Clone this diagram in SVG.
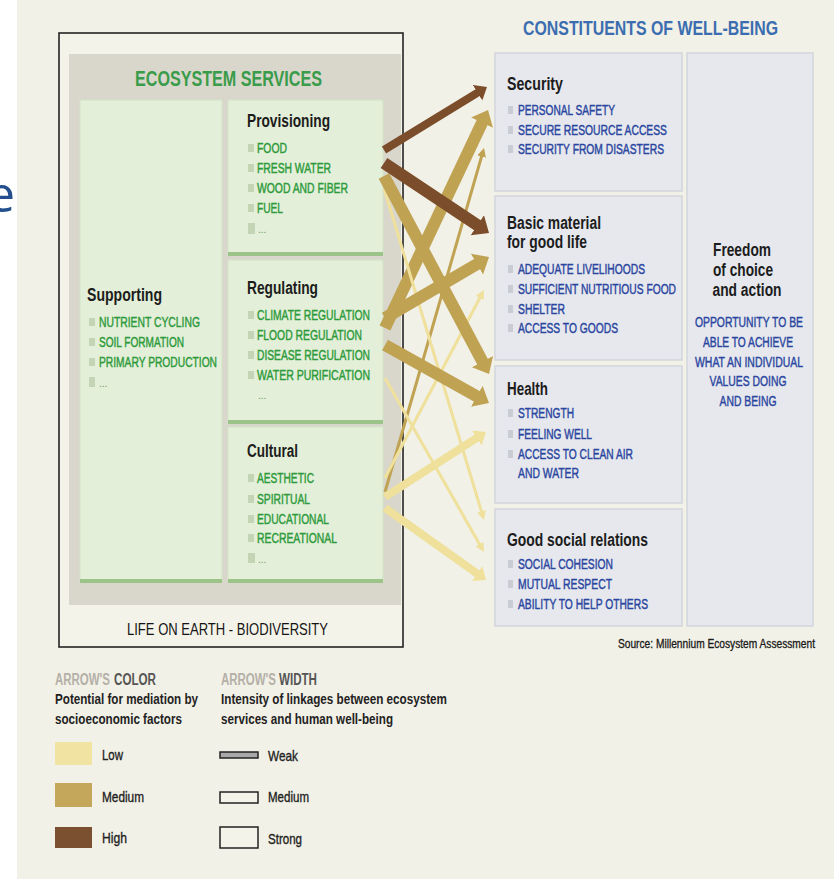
<svg xmlns="http://www.w3.org/2000/svg" width="834" height="879" viewBox="0 0 834 879">
<defs>
<style>
text{font-family:"Liberation Sans",Arial,sans-serif}
.hd{font-weight:bold;font-size:18px;fill:#1c1c1c}
.gi{font-size:15px;fill:#2d9a3b;stroke:#2d9a3b;stroke-width:0.45}
.bi{font-size:15px;fill:#2a46a0;stroke:#2a46a0;stroke-width:0.45}
.gb{fill:#c3d5b5}
.bb{fill:#c9ccd3}
.svc{fill:#e3efd8;stroke:#d3e3c6;stroke-width:1}
.edge{fill:#9cc488}
.con{fill:#e6e8ed;stroke:#d2d5db;stroke-width:1.5}
.lg{font-size:15px;font-weight:bold;fill:#222}
.lh{font-size:16px;font-weight:bold}
.ll{font-size:15px;fill:#222;stroke:#222;stroke-width:0.35}
.arr{fill:none;stroke-linecap:butt}
.hi{stroke:#7b4d2a}
.md{stroke:#c0a253}
.lo{stroke:#efe09c}
.w3{stroke-width:12}
.w2{stroke-width:8}
.w1{stroke-width:3}
</style>
<marker id="hiS" markerUnits="userSpaceOnUse" markerWidth="16" markerHeight="26" viewBox="0 -13 16 26" refX="2" refY="0" orient="auto"><path d="M0,-12 L14,0 L0,12 z" fill="#7b4d2a"/></marker>
<marker id="hiM" markerUnits="userSpaceOnUse" markerWidth="13" markerHeight="20" viewBox="0 -10 13 20" refX="2" refY="0" orient="auto"><path d="M0,-9 L11,0 L0,9 z" fill="#7b4d2a"/></marker>
<marker id="mdS" markerUnits="userSpaceOnUse" markerWidth="16" markerHeight="26" viewBox="0 -13 16 26" refX="2" refY="0" orient="auto"><path d="M0,-12 L14,0 L0,12 z" fill="#c0a253"/></marker>
<marker id="mdW" markerUnits="userSpaceOnUse" markerWidth="11" markerHeight="11" viewBox="0 -5.5 11 11" refX="2" refY="0" orient="auto"><path d="M0,-4.5 L9,0 L0,4.5 z" fill="#c0a253"/></marker>
<marker id="loM" markerUnits="userSpaceOnUse" markerWidth="13" markerHeight="20" viewBox="0 -10 13 20" refX="2" refY="0" orient="auto"><path d="M0,-9 L11,0 L0,9 z" fill="#efe09c"/></marker>
<marker id="loW" markerUnits="userSpaceOnUse" markerWidth="11" markerHeight="11" viewBox="0 -5.5 11 11" refX="2" refY="0" orient="auto"><path d="M0,-4.5 L9,0 L0,4.5 z" fill="#efe09c"/></marker>
</defs>

<!-- page -->
<rect x="0" y="0" width="834" height="879" fill="#f2f1e7"/>
<rect x="0" y="0" width="17" height="879" fill="#ffffff"/>
<text x="-13" y="212" font-size="50" fill="#234f8e" style="font-family:'Open Sans',sans-serif">e</text>

<!-- ecosystem services frame -->
<g id="frame">
<rect x="59" y="33" width="344" height="614" fill="#f4f3ea" stroke="#232323" stroke-width="1.6"/>
<rect x="69" y="54" width="332" height="551" fill="#d9d7cc"/>
<text x="135" y="86" font-size="22" font-weight="bold" fill="#3a9c4a" textLength="187" lengthAdjust="spacingAndGlyphs">ECOSYSTEM SERVICES</text>
<text x="127" y="635" font-size="17" fill="#141414" textLength="201" lengthAdjust="spacingAndGlyphs">LIFE ON EARTH - BIODIVERSITY</text>
</g>

<g id="supporting">
<rect class="svc" x="80" y="100" width="142" height="482"/>
<rect class="edge" x="80" y="579" width="142" height="4"/>
<text class="hd" x="87" y="301" textLength="75" lengthAdjust="spacingAndGlyphs">Supporting</text>
<rect class="gb" x="89" y="318" width="6" height="8"/><text class="gi" x="99" y="327" textLength="101" lengthAdjust="spacingAndGlyphs">NUTRIENT CYCLING</text>
<rect class="gb" x="89" y="338" width="6" height="8"/><text class="gi" x="99" y="347" textLength="85" lengthAdjust="spacingAndGlyphs">SOIL FORMATION</text>
<rect class="gb" x="89" y="358" width="6" height="8"/><text class="gi" x="99" y="367" textLength="118" lengthAdjust="spacingAndGlyphs">PRIMARY PRODUCTION</text>
<rect class="gb" x="89" y="377" width="6" height="10"/><text x="99" y="387" font-size="10" fill="#6c9a5c">...</text>
</g>

<g id="provisioning">
<rect class="svc" x="228" y="100" width="155" height="155"/>
<rect class="edge" x="228" y="252" width="155" height="4"/>
<text class="hd" x="247" y="127" textLength="83" lengthAdjust="spacingAndGlyphs">Provisioning</text>
<rect class="gb" x="248" y="144" width="6" height="8"/><text class="gi" x="257" y="153" textLength="30" lengthAdjust="spacingAndGlyphs">FOOD</text>
<rect class="gb" x="248" y="164" width="6" height="8"/><text class="gi" x="257" y="173" textLength="74" lengthAdjust="spacingAndGlyphs">FRESH WATER</text>
<rect class="gb" x="248" y="184" width="6" height="8"/><text class="gi" x="257" y="193" textLength="91" lengthAdjust="spacingAndGlyphs">WOOD AND FIBER</text>
<rect class="gb" x="248" y="204" width="6" height="8"/><text class="gi" x="257" y="213" textLength="26" lengthAdjust="spacingAndGlyphs">FUEL</text>
<rect class="gb" x="248" y="223" width="7" height="11"/><text x="258" y="233" font-size="10" fill="#6c9a5c">...</text>
</g>

<g id="regulating">
<rect class="svc" x="228" y="260" width="155" height="163"/>
<rect class="edge" x="228" y="420" width="155" height="4"/>
<text class="hd" x="247" y="294" textLength="71" lengthAdjust="spacingAndGlyphs">Regulating</text>
<rect class="gb" x="248" y="311" width="6" height="8"/><text class="gi" x="257" y="320" textLength="113" lengthAdjust="spacingAndGlyphs">CLIMATE REGULATION</text>
<rect class="gb" x="248" y="331" width="6" height="8"/><text class="gi" x="257" y="340" textLength="105" lengthAdjust="spacingAndGlyphs">FLOOD REGULATION</text>
<rect class="gb" x="248" y="351" width="6" height="8"/><text class="gi" x="257" y="360" textLength="113" lengthAdjust="spacingAndGlyphs">DISEASE REGULATION</text>
<rect class="gb" x="248" y="371" width="6" height="8"/><text class="gi" x="257" y="380" textLength="113" lengthAdjust="spacingAndGlyphs">WATER PURIFICATION</text>
<text x="258" y="399" font-size="10" fill="#6c9a5c">...</text>
</g>

<g id="cultural">
<rect class="svc" x="228" y="427" width="155" height="155"/>
<rect class="edge" x="228" y="579" width="155" height="4"/>
<text class="hd" x="247" y="457" textLength="51" lengthAdjust="spacingAndGlyphs">Cultural</text>
<rect class="gb" x="248" y="474" width="6" height="8"/><text class="gi" x="257" y="483" textLength="57" lengthAdjust="spacingAndGlyphs">AESTHETIC</text>
<rect class="gb" x="248" y="495" width="6" height="8"/><text class="gi" x="257" y="504" textLength="53" lengthAdjust="spacingAndGlyphs">SPIRITUAL</text>
<rect class="gb" x="248" y="515" width="6" height="8"/><text class="gi" x="257" y="524" textLength="72" lengthAdjust="spacingAndGlyphs">EDUCATIONAL</text>
<rect class="gb" x="248" y="534" width="6" height="8"/><text class="gi" x="257" y="543" textLength="80" lengthAdjust="spacingAndGlyphs">RECREATIONAL</text>
<rect class="gb" x="248" y="553" width="7" height="10"/><text x="258" y="563" font-size="10" fill="#6c9a5c">...</text>
</g>

<!-- linkages: colour = mediation potential, width = intensity -->
<g id="connectors" class="arr">
<line class="hi w2" x1="384" y1="150" x2="479.3" y2="91.7" marker-end="url(#hiM)"/>
<line class="md w3" x1="385" y1="328" x2="482.9" y2="120.9" marker-end="url(#mdS)"/>
<line class="md w1" x1="385" y1="492" x2="482.1" y2="154.7" marker-end="url(#mdW)"/>
<line class="lo w1" x1="385" y1="478" x2="480.7" y2="296.2" marker-end="url(#loW)"/>
<line class="lo w1" x1="384" y1="188" x2="482.0" y2="513.3" marker-end="url(#loW)"/>
<line class="lo w1" x1="385" y1="378" x2="480.5" y2="545.9" marker-end="url(#loW)"/>
<line class="lo w2" x1="385" y1="497" x2="478.4" y2="436.9" marker-end="url(#loM)"/>
<line class="lo w2" x1="385" y1="508" x2="478.7" y2="574.8" marker-end="url(#loM)"/>
<line class="md w3" x1="385" y1="318" x2="478.7" y2="263.1" marker-end="url(#mdS)"/>
<line class="md w3" x1="385" y1="345" x2="478.5" y2="397.2" marker-end="url(#mdS)"/>
<line class="md w3" x1="384" y1="176" x2="483.4" y2="363.4" marker-end="url(#mdS)"/>
<line class="hi w3" x1="384" y1="163" x2="479.0" y2="226.3" marker-end="url(#hiS)"/>
</g>

<!-- constituents of well-being -->
<text x="523" y="35" font-size="20" font-weight="bold" fill="#3b6db0" textLength="255" lengthAdjust="spacingAndGlyphs">CONSTITUENTS OF WELL-BEING</text>

<g id="security">
<rect class="con" x="495" y="53" width="187" height="138"/>
<text class="hd" x="507" y="90" textLength="56" lengthAdjust="spacingAndGlyphs">Security</text>
<rect class="bb" x="508" y="106" width="5" height="8"/><text class="bi" x="518" y="115" textLength="97" lengthAdjust="spacingAndGlyphs">PERSONAL SAFETY</text>
<rect class="bb" x="508" y="126" width="5" height="8"/><text class="bi" x="518" y="135" textLength="149" lengthAdjust="spacingAndGlyphs">SECURE RESOURCE ACCESS</text>
<rect class="bb" x="508" y="145" width="5" height="8"/><text class="bi" x="518" y="154" textLength="146" lengthAdjust="spacingAndGlyphs">SECURITY FROM DISASTERS</text>
</g>

<g id="basic-material">
<rect class="con" x="495" y="196" width="187" height="164"/>
<text class="hd" x="507" y="229" textLength="94" lengthAdjust="spacingAndGlyphs">Basic material</text>
<text class="hd" x="507" y="248" textLength="80" lengthAdjust="spacingAndGlyphs">for good life</text>
<rect class="bb" x="508" y="265" width="5" height="8"/><text class="bi" x="518" y="274" textLength="127" lengthAdjust="spacingAndGlyphs">ADEQUATE LIVELIHOODS</text>
<rect class="bb" x="508" y="285" width="5" height="8"/><text class="bi" x="518" y="294" textLength="158" lengthAdjust="spacingAndGlyphs">SUFFICIENT NUTRITIOUS FOOD</text>
<rect class="bb" x="508" y="305" width="5" height="8"/><text class="bi" x="518" y="314" textLength="47" lengthAdjust="spacingAndGlyphs">SHELTER</text>
<rect class="bb" x="508" y="324" width="5" height="8"/><text class="bi" x="518" y="333" textLength="100" lengthAdjust="spacingAndGlyphs">ACCESS TO GOODS</text>
</g>

<g id="health">
<rect class="con" x="495" y="366" width="187" height="137"/>
<text class="hd" x="507" y="395" textLength="41" lengthAdjust="spacingAndGlyphs">Health</text>
<rect class="bb" x="508" y="409" width="5" height="8"/><text class="bi" x="518" y="418" textLength="56" lengthAdjust="spacingAndGlyphs">STRENGTH</text>
<rect class="bb" x="508" y="430" width="5" height="8"/><text class="bi" x="518" y="439" textLength="74" lengthAdjust="spacingAndGlyphs">FEELING WELL</text>
<rect class="bb" x="508" y="450" width="5" height="8"/><text class="bi" x="518" y="459" textLength="115" lengthAdjust="spacingAndGlyphs">ACCESS TO CLEAN AIR</text>
<text class="bi" x="518" y="478" textLength="61" lengthAdjust="spacingAndGlyphs">AND WATER</text>
</g>

<g id="social-relations">
<rect class="con" x="495" y="509" width="187" height="117"/>
<text class="hd" x="507" y="546" textLength="141" lengthAdjust="spacingAndGlyphs">Good social relations</text>
<rect class="bb" x="508" y="560" width="5" height="8"/><text class="bi" x="518" y="569" textLength="95" lengthAdjust="spacingAndGlyphs">SOCIAL COHESION</text>
<rect class="bb" x="508" y="580" width="5" height="8"/><text class="bi" x="518" y="589" textLength="94" lengthAdjust="spacingAndGlyphs">MUTUAL RESPECT</text>
<rect class="bb" x="508" y="600" width="5" height="8"/><text class="bi" x="518" y="609" textLength="130" lengthAdjust="spacingAndGlyphs">ABILITY TO HELP OTHERS</text>
</g>

<g id="freedom" text-anchor="middle">
<rect class="con" x="687" y="53" width="126" height="573"/>
<text class="hd" x="742" y="256" textLength="58" lengthAdjust="spacingAndGlyphs">Freedom</text>
<text class="hd" x="743" y="276" textLength="60" lengthAdjust="spacingAndGlyphs">of choice</text>
<text class="hd" x="747" y="296" textLength="69" lengthAdjust="spacingAndGlyphs">and action</text>
<text class="bi" x="749" y="327" textLength="108" lengthAdjust="spacingAndGlyphs">OPPORTUNITY TO BE</text>
<text class="bi" x="748" y="347" textLength="90" lengthAdjust="spacingAndGlyphs">ABLE TO ACHIEVE</text>
<text class="bi" x="749" y="367" textLength="108" lengthAdjust="spacingAndGlyphs">WHAT AN INDIVIDUAL</text>
<text class="bi" x="748" y="386" textLength="77" lengthAdjust="spacingAndGlyphs">VALUES DOING</text>
<text class="bi" x="748" y="406" textLength="57" lengthAdjust="spacingAndGlyphs">AND BEING</text>
</g>

<text x="618" y="648" font-size="12" fill="#1a1a1a" stroke="#1a1a1a" stroke-width="0.3" textLength="197" lengthAdjust="spacingAndGlyphs">Source: Millennium Ecosystem Assessment</text>

<!-- legend -->
<g id="legend-colour">
<text class="lh" x="55" y="685" fill="#b4b0a7" textLength="55" lengthAdjust="spacingAndGlyphs">ARROW'S</text>
<text class="lh" x="114" y="685" fill="#555" textLength="42" lengthAdjust="spacingAndGlyphs">COLOR</text>
<text class="lg" x="55" y="704" textLength="143" lengthAdjust="spacingAndGlyphs">Potential for mediation by</text>
<text class="lg" x="55" y="724" textLength="127" lengthAdjust="spacingAndGlyphs">socioeconomic factors</text>
<rect x="55" y="742" width="37" height="23" fill="#f1e3a2"/>
<rect x="55" y="783" width="37" height="24" fill="#c5a75c"/>
<rect x="55" y="827" width="37" height="21" fill="#7b5030"/>
<text class="ll" x="102" y="760" textLength="21" lengthAdjust="spacingAndGlyphs">Low</text>
<text class="ll" x="102" y="802" textLength="42" lengthAdjust="spacingAndGlyphs">Medium</text>
<text class="ll" x="102" y="843" textLength="25" lengthAdjust="spacingAndGlyphs">High</text>
</g>

<g id="legend-width">
<text class="lh" x="221" y="685" fill="#b4b0a7" textLength="55" lengthAdjust="spacingAndGlyphs">ARROW'S</text>
<text class="lh" x="279" y="685" fill="#555" textLength="38" lengthAdjust="spacingAndGlyphs">WIDTH</text>
<text class="lg" x="221" y="704" textLength="226" lengthAdjust="spacingAndGlyphs">Intensity of linkages between ecosystem</text>
<text class="lg" x="221" y="724" textLength="172" lengthAdjust="spacingAndGlyphs">services and human well-being</text>
<rect x="220" y="752" width="38" height="6" fill="#a8a8a8" stroke="#222" stroke-width="1.5"/>
<rect x="220" y="792" width="38" height="11" fill="#f4f3ea" stroke="#222" stroke-width="1.5"/>
<rect x="220" y="827" width="38" height="21" fill="#f4f3ea" stroke="#222" stroke-width="1.5"/>
<text class="ll" x="268" y="761" textLength="30" lengthAdjust="spacingAndGlyphs">Weak</text>
<text class="ll" x="268" y="802" textLength="41" lengthAdjust="spacingAndGlyphs">Medium</text>
<text class="ll" x="268" y="844" textLength="34" lengthAdjust="spacingAndGlyphs">Strong</text>
</g>
</svg>
